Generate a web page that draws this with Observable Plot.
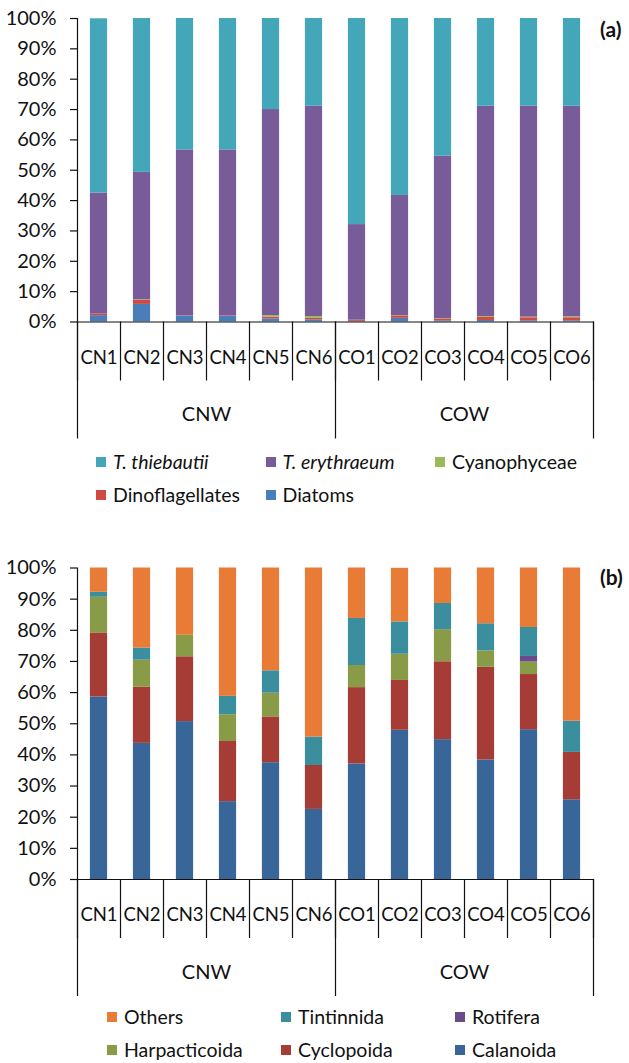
<!DOCTYPE html>
<html>
<head>
<meta charset="utf-8">
<script src="https://cdn.jsdelivr.net/npm/d3@7"></script>
<script src="https://cdn.jsdelivr.net/npm/@observablehq/plot@0.6"></script>
<style>
  html, body { margin: 0; padding: 0; background: #fff; }
  #page { position: relative; width: 629px; height: 1063px; overflow: hidden; font-family: Lato, "Open Sans", sans-serif; color: #111; }
  .panel { position: absolute; left: 0; }
  .tag { position: absolute; font-weight: bold; font-size: 21px; line-height: 1; }
  .legend { position: absolute; display: grid; row-gap: 0; }
  .item { display: flex; align-items: center; height: 33px; font-size: 19.5px; line-height: 1; white-space: nowrap; }
  .sw { width: 10px; height: 10px; margin-right: 7px; flex: none; }
  .it { font-style: italic; }
</style>
</head>
<body>
<div id="page"></div>
<script>
// Sampling sites and the water region each one belongs to
const sites = ["CN1", "CN2", "CN3", "CN4", "CN5", "CN6", "CO1", "CO2", "CO3", "CO4", "CO5", "CO6"];
const siteRegion = ["CNW", "CNW", "CNW", "CNW", "CNW", "CNW", "COW", "COW", "COW", "COW", "COW", "COW"];

// (a) phytoplankton composition, % of total (stacked bottom to top)
const phytoSeries = ["Diatoms", "Dinoflagellates", "Cyanophyceae", "T. erythraeum", "T. thiebautii"];
const diatoms         = [2.1, 5.8, 1.9, 1.8, 1.0, 0.7, 0.2, 1.2, 0.4, 0.5, 0.4, 0.4];
const dinoflagellates = [0.6, 1.3, 0.1, 0.2, 0.6, 0.5, 0.4, 0.8, 0.6, 1.0, 1.0, 1.0];
const cyanophyceae    = [0.0, 0.2, 0.0, 0.0, 0.5, 0.6, 0.0, 0.1, 0.1, 0.3, 0.2, 0.3];
const tErythraeum     = [39.8, 42.0, 54.7, 54.7, 67.9, 69.3, 31.5, 39.6, 53.6, 69.3, 69.5, 69.4];
const tThiebautii     = [57.4, 50.7, 43.3, 43.3, 30.0, 28.9, 67.9, 58.3, 45.3, 28.9, 28.9, 28.9];
const phytoColors = ["#4a7ebb", "#cf4a43", "#9ab958", "#775c99", "#43a7b9"];

// (b) zooplankton composition, % of total (stacked bottom to top)
const zooSeries = ["Calanoida", "Cyclopoida", "Harpacticoida", "Rotifera", "Tintinnida", "Others"];
const calanoida     = [58.6, 43.7, 50.7, 25.0, 37.5, 22.5, 37.1, 47.9, 44.9, 38.4, 48.1, 25.6];
const cyclopoida    = [20.4, 18.0, 20.8, 19.3, 14.7, 14.1, 24.5, 16.0, 25.0, 29.7, 17.7, 15.2];
const harpacticoida = [11.6, 8.7, 6.9, 8.6, 7.6, 0.0, 7.1, 8.4, 10.3, 5.3, 4.0, 0.0];
const rotifera      = [0.0, 0.0, 0.0, 0.0, 0.0, 0.0, 0.0, 0.0, 0.0, 0.0, 1.8, 0.0];
const tintinnida    = [1.6, 3.9, 0.0, 5.9, 7.2, 9.1, 15.1, 10.4, 8.4, 8.7, 9.3, 10.0];
const others        = [7.8, 25.7, 21.6, 41.2, 33.0, 54.3, 16.2, 17.2, 11.4, 17.9, 19.1, 49.2];
const zooColors = ["#396699", "#a53d36", "#8a9b47", "#6a4c8a", "#3b8e9e", "#e87b36"];

const yTicks = d3.range(0, 101, 10);

// Region boundaries (site index where a region starts/ends) and region centres
const regions = Array.from(new Set(siteRegion));
const regionStart = regions.map(r => siteRegion.indexOf(r));
const regionEnd = regions.map(r => siteRegion.lastIndexOf(r) + 1);
const regionBounds = Array.from(new Set([...regionStart, ...regionEnd]));
const regionMid = regions.map((r, k) => (regionStart[k] + regionEnd[k]) / 2);

function stackedPanel({series, values, colors, height, marginTop, marginBottom}) {
  const rows = [];
  series.forEach((s, k) => values[k].forEach((v, i) => rows.push({site: sites[i], i, series: s, value: v})));
  return Plot.plot({
    width: 629,
    height,
    marginTop,
    marginBottom,
    marginLeft: 77,
    marginRight: 36,
    style: {fontFamily: "Lato, 'Open Sans', sans-serif", fontSize: "20px", color: "#111", background: "#fff"},
    x: {type: "linear", domain: [0, sites.length], label: null},
    y: {domain: [0, 100], label: null},
    color: {domain: series, range: colors},
    marks: [
      Plot.rectY(rows, {
        x: "i", interval: 1, y: "value", fill: "series", order: series,
        insetLeft: 12.9, insetRight: 12.9
      }),
      Plot.ruleX([0], {stroke: "#111", strokeWidth: 1.2}),
      Plot.ruleY([0], {stroke: "#111", strokeWidth: 1.2}),
      Plot.axisY({ticks: yTicks, tickFormat: d => d + "%", tickSize: 7, tickPadding: 14, label: null, strokeWidth: 1.2}),
      // site labels, centred in each category slot
      Plot.axisX({ticks: sites.map((s, i) => i + 0.5), tickFormat: d => sites[Math.floor(d)], tickSize: 0, tickPadding: 28.5, fontSize: 18.5, label: null}),
      // separators between sites
      Plot.axisX({ticks: d3.range(sites.length + 1), tickFormat: () => "", tickSize: 59, label: null, strokeWidth: 1.2}),
      // separators between regions
      Plot.axisX({ticks: regionBounds, tickFormat: () => "", tickSize: 117, label: null, strokeWidth: 1.2}),
      // region labels
      Plot.axisX({ticks: regionMid, tickFormat: d => regions[regionMid.indexOf(d)], tickSize: 0, tickPadding: 85, label: null})
    ]
  });
}

function legend({items, colors, italic, left, top, colWidth}) {
  const div = document.createElement("div");
  div.className = "legend";
  div.style.left = left + "px";
  div.style.top = top + "px";
  div.style.gridTemplateColumns = `repeat(3, ${colWidth}px)`;
  items.forEach((name, k) => {
    const it = document.createElement("div");
    it.className = "item";
    const sw = document.createElement("span");
    sw.className = "sw";
    sw.style.background = colors[k];
    const tx = document.createElement("span");
    tx.textContent = name;
    if (italic.includes(name)) tx.className = "it";
    it.append(sw, tx);
    div.append(it);
  });
  return div;
}

const page = document.getElementById("page");

// Panel (a)
const chartA = stackedPanel({
  series: phytoSeries,
  values: [diatoms, dinoflagellates, cyanophyceae, tErythraeum, tThiebautii],
  colors: phytoColors,
  height: 450, marginTop: 18, marginBottom: 128.5
});
const wrapA = document.createElement("div");
wrapA.className = "panel";
wrapA.style.top = "0px";
wrapA.append(chartA);
page.append(wrapA);

const tagA = document.createElement("div");
tagA.className = "tag";
tagA.textContent = "(a)";
tagA.style.left = "600px";
tagA.style.top = "18px";
page.append(tagA);

page.append(legend({
  items: phytoSeries.slice().reverse(),
  colors: phytoColors.slice().reverse(),
  italic: ["T. thiebautii", "T. erythraeum"],
  left: 96, top: 445, colWidth: 169.5
}));

// Panel (b)
const chartB = stackedPanel({
  series: zooSeries,
  values: [calanoida, cyclopoida, harpacticoida, rotifera, tintinnida, others],
  colors: zooColors,
  height: 450, marginTop: 18.5, marginBottom: 120
});
const wrapB = document.createElement("div");
wrapB.className = "panel";
wrapB.style.top = "549px";
wrapB.append(chartB);
page.append(wrapB);

const tagB = document.createElement("div");
tagB.className = "tag";
tagB.textContent = "(b)";
tagB.style.left = "600px";
tagB.style.top = "566px";
page.append(tagB);

page.append(legend({
  items: zooSeries.slice().reverse(),
  colors: zooColors.slice().reverse(),
  italic: [],
  left: 107, top: 1000, colWidth: 174
}));
</script>
</body>
</html>
